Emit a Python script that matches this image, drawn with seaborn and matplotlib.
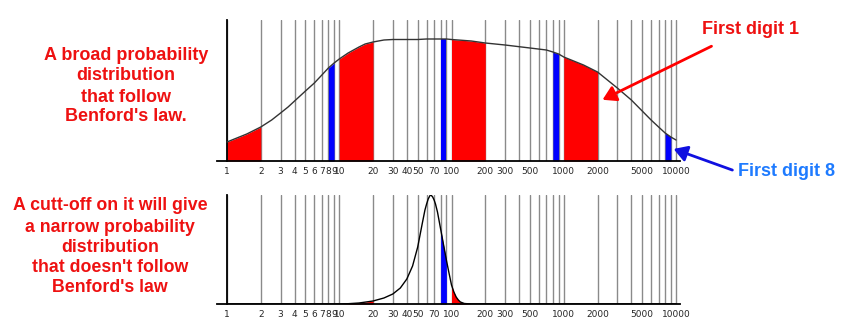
import numpy as np
import pandas as pd
import matplotlib
matplotlib.use("Agg")
import matplotlib.pyplot as plt
from matplotlib.ticker import NullFormatter
import seaborn as sns

# ---- data ----
broad_x = [1, 1.5, 2, 2.5, 3, 3.5, 4, 5, 6, 7, 8, 9, 10, 12, 15, 17, 20, 25, 30, 40, 50, 60, 70, 80, 90, 100,
           150, 200, 300, 500, 700, 800, 900, 1000, 1500, 2000, 3000, 4000, 5000, 6000, 7000, 8000, 9000, 10000]
broad_y = [19, 27, 34, 41, 48, 54, 60, 70, 78, 86, 93, 98, 102, 108, 114, 117, 119, 121, 121.5, 121.5, 121.5, 122, 122, 122, 122, 121.5,
           120, 118, 116, 113, 111, 109, 107, 104, 96, 89, 73, 61, 50, 41, 34, 28, 24, 21]

narrow_x = [1, 5, 10, 12, 15, 20, 25, 30, 35, 40, 45, 50, 55, 58, 60, 62, 64, 65, 66, 68, 70, 72, 75, 80, 85, 90, 95, 100,
            105, 110, 115, 120, 130, 150, 200, 1000, 10000]
narrow_y = [0, 0, 0, 0.3, 1, 3, 6, 10, 16, 25, 38, 57, 81, 94, 100, 105, 108, 109, 108.7, 107, 104, 100, 92, 75, 59, 44, 31, 19,
            12, 7, 4, 2, 0.5, 0, 0, 0, 0]

major_ticks = [1, 2, 3, 4, 5, 6, 7, 8, 9, 10, 20, 30, 40, 50, 70, 100, 200, 300, 500,
               1000, 2000, 5000, 10000]
minor_ticks = [60, 80, 90, 400, 600, 700, 800, 900, 3000, 4000, 6000, 7000, 8000, 9000]
decades = [1, 10, 100, 1000]

left_lines = ["A broad probability", "distribution", "that follow", "Benford's law."]
bottom_lines = ["A cutt-off on it will give", "a narrow probability", "distribution",
                "that doesn't follow", "Benford's law"]

sns.set_style("white")
plt.rcParams['font.family'] = ['DejaVu Sans']

W, H = 850, 335
fig = plt.figure(figsize=(W / 100, H / 100), dpi=100)

def px_axes(left, top, right, bottom):
    return fig.add_axes([left / W, 1 - bottom / H, (right - left) / W, (bottom - top) / H])

xlo = 10 ** (-10 / 112.25)
xhi = 10 ** (4 + 4 / 112.25)

RED = "#FF0000"
BLUE = "#0000FF"

def draw_panel(ax, xs, ys, ymax, color):
    df = pd.DataFrame({"x": xs, "y": ys})
    xa = np.array(xs, dtype=float)
    ya = np.array(ys, dtype=float)
    for d in decades + [10000]:
        for lo, hi, c in ((1 * d, 2 * d, RED), (8 * d, 9 * d, BLUE)):
            m = (xa >= lo) & (xa <= hi)
            if m.sum() >= 2:
                ax.fill_between(xa[m], 0, ya[m], color=c, lw=0, zorder=2)
    sns.lineplot(data=df, x="x", y="y", ax=ax, color=color, lw=1.0, zorder=3)
    ax.set_xscale("log")
    ax.set_xlim(xlo, xhi)
    ax.set_ylim(0, ymax)
    ax.set_xticks(major_ticks)
    ax.set_xticklabels([str(t) for t in major_ticks])
    ax.set_xticks(minor_ticks, minor=True)
    ax.xaxis.set_minor_formatter(NullFormatter())
    ax.set_yticks([])
    ax.set_xlabel("")
    ax.set_ylabel("")
    ax.grid(True, which="both", axis="x", color="#8a8a8a", lw=1.0)
    ax.set_axisbelow(True)
    ax.tick_params(axis="x", which="both", length=0, labelsize=6.5, pad=4, bottom=True)
    for s in ("top", "right"):
        ax.spines[s].set_visible(False)
    ax.spines["left"].set_position(("data", 1))
    ax.spines["left"].set_color("black")
    ax.spines["left"].set_linewidth(1.3)
    ax.spines["bottom"].set_color("black")
    ax.spines["bottom"].set_linewidth(1.3)

ax1 = px_axes(217, 20, 680, 161)
draw_panel(ax1, broad_x, broad_y, 141, "#333333")
ax2 = px_axes(217, 195, 680, 304)
draw_panel(ax2, narrow_x, narrow_y, 109, "black")

TXT_RED = "#EE1111"
for i, line in enumerate(left_lines):
    y = [55, 76, 97, 117][i]
    fig.text(126 / W, 1 - y / H, line, ha="center", va="center", color=TXT_RED,
             fontsize=13, fontweight="bold", family="Liberation Sans")
for i, line in enumerate(bottom_lines):
    y = [206, 227, 248, 268, 288][i]
    fig.text(110 / W, 1 - y / H, line, ha="center", va="center", color=TXT_RED,
             fontsize=12.8, fontweight="bold", family="Liberation Sans")

fig.text(751 / W, 1 - 29 / H, "First digit 1", ha="center", va="center", color=TXT_RED,
         fontsize=13, fontweight="bold", family="Liberation Sans")
fig.text(786 / W, 1 - 172 / H, "First digit 8", ha="center", va="center", color="#1E7BFF",
         fontsize=13, fontweight="bold", family="Liberation Sans")

def fig_arrow(x0, y0, x1, y1, color):
    fig.add_artist(matplotlib.patches.FancyArrowPatch(
        (x0 / W, 1 - y0 / H), (x1 / W, 1 - y1 / H), transform=fig.transFigure,
        arrowstyle="-|>,head_length=5,head_width=3", color=color, lw=2, mutation_scale=1.6))

fig_arrow(714, 45, 600, 101, RED)
fig_arrow(735, 171, 671, 148, "#1010E0")

fig.savefig("out.png", dpi=100)
